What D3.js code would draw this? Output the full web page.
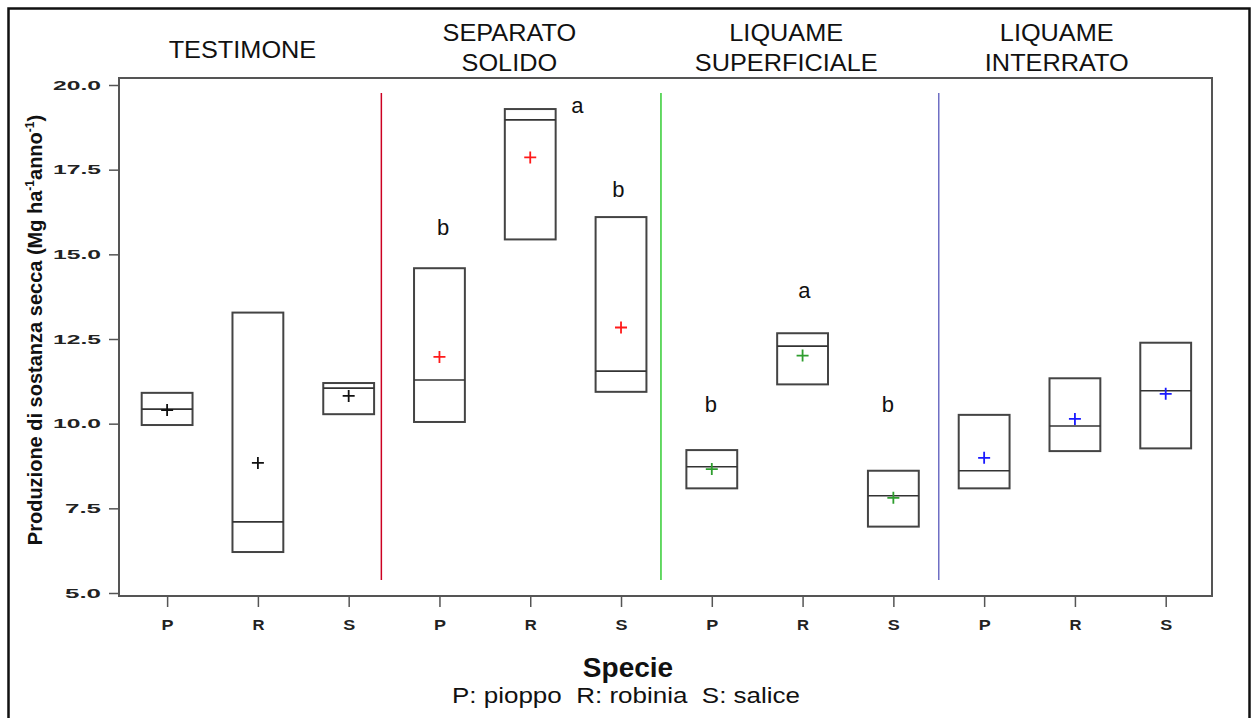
<!DOCTYPE html>
<html>
<head>
<meta charset="utf-8">
<script src="https://cdn.jsdelivr.net/npm/d3@7"></script>
<style>
  html, body { margin: 0; padding: 0; background: #fff; }
  svg { display: block; }
  text { font-family: "Liberation Sans", Arial, sans-serif; }
</style>
</head>
<body>
<svg id="chart" width="1255" height="718"></svg>
<script>
// Species codes on the x axis, repeated for each treatment
const species = ["P", "R", "S"];
const treatments = ["TESTIMONE", "SEPARATO SOLIDO", "LIQUAME SUPERFICIALE", "LIQUAME INTERRATO"];
const treatmentLines = [["TESTIMONE"], ["SEPARATO", "SOLIDO"], ["LIQUAME", "SUPERFICIALE"], ["LIQUAME", "INTERRATO"]];
const treatmentColors = ["#111111", "#ff1a1a", "#2e9e2e", "#1a1aff"];
const separatorColors = ["#cc0022", "#33cc33", "#6f6fc4"];
const separatorPos = [3.36, 6.44, 9.5];

// Box statistics per treatment, order P, R, S (Mg ha-1 anno-1)
const q1     = [[9.96, 6.21, 10.28], [10.05, 15.44, 10.94], [8.09, 11.16, 6.96], [8.09, 9.19, 9.27]];
const median = [[10.43, 7.10, 11.05], [11.29, 18.97, 11.55], [8.73, 12.29, 7.87], [8.61, 9.93, 10.97]];
const q3     = [[10.91, 13.28, 11.20], [14.59, 19.29, 16.10], [9.22, 12.67, 8.61], [10.26, 11.34, 12.39]];
const mean   = [[10.40, 8.84, 10.82], [11.97, 17.86, 12.84], [8.66, 12.01, 7.81], [8.99, 10.14, 10.88]];

// Significance letters: position index, baseline value, letter
const letterPos = [4.04, 5.52, 5.97, 6.99, 8.02, 8.94];
const letterVal = [15.57, 19.17, 16.69, 10.34, 13.71, 10.34];
const letterTxt = ["b", "a", "b", "b", "a", "b"];

// Header label centres (position index)
const headerPos = [1.83, 4.77, 7.82, 10.8];

const yTicks = [5.0, 7.5, 10.0, 12.5, 15.0, 17.5, 20.0];

const svg = d3.select("#chart");

// stretch a text element horizontally by a factor
function widen(sel, k) {
  sel.each(function () {
    const w = this.getComputedTextLength();
    d3.select(this).attr("textLength", w * k).attr("lengthAdjust", "spacingAndGlyphs");
  });
}

// outer border
svg.append("rect")
  .attr("x", 8.5).attr("y", 8.5).attr("width", 1241).attr("height", 730)
  .attr("fill", "none").attr("stroke", "#111").attr("stroke-width", 2.5);

const frame = { left: 119, right: 1212, top: 78, bottom: 596 };

const x = d3.scaleLinear().domain([0.47, 12.51]).range([frame.left, frame.right]);
const y = d3.scaleLinear().domain([5, 20]).range([593, 85]);

// plot frame
svg.append("rect")
  .attr("x", frame.left).attr("y", frame.top)
  .attr("width", frame.right - frame.left).attr("height", frame.bottom - frame.top)
  .attr("fill", "none").attr("stroke", "#555").attr("stroke-width", 2);

// y axis ticks and labels
const yAxis = d3.axisLeft(y).tickValues(yTicks).tickSize(10).tickPadding(8).tickFormat(d3.format(".1f"));
const gy = svg.append("g").attr("transform", `translate(${frame.left},0)`).call(yAxis);
gy.select(".domain").remove();
gy.selectAll(".tick line").attr("stroke", "#555").attr("stroke-width", 1.5);
gy.selectAll(".tick text")
  .attr("font-family", "'DejaVu Sans', sans-serif")
  .attr("font-weight", "bold").attr("font-size", 12.5).attr("fill", "#222")
  .attr("textLength", d => d3.format(".1f")(d).length * 12)
  .attr("lengthAdjust", "spacingAndGlyphs");

// x axis ticks and labels
const boxes = [];
treatments.forEach((t, ti) => {
  species.forEach((s, si) => {
    boxes.push({ t: ti, s: si, pos: ti * 3 + si + 1, label: s,
      q1: q1[ti][si], med: median[ti][si], q3: q3[ti][si], mean: mean[ti][si] });
  });
});

const xAxis = d3.axisBottom(x).tickValues(boxes.map(b => b.pos))
  .tickFormat(d => species[(d - 1) % 3]).tickSize(11).tickPadding(13);
const gx = svg.append("g").attr("transform", `translate(0,${frame.bottom})`).call(xAxis);
gx.select(".domain").remove();
gx.selectAll(".tick line").attr("stroke", "#555").attr("stroke-width", 1.5);
gx.selectAll(".tick text")
  .attr("font-family", "'DejaVu Sans', sans-serif")
  .attr("font-weight", "bold").attr("font-size", 14).attr("fill", "#222")
  .attr("textLength", 12).attr("lengthAdjust", "spacingAndGlyphs");

// treatment separators
svg.append("g").selectAll("line").data(separatorPos).join("line")
  .attr("x1", d => x(d)).attr("x2", d => x(d))
  .attr("y1", 93).attr("y2", 580)
  .attr("stroke", (d, i) => separatorColors[i]).attr("stroke-width", 1.5);

// boxes
const half = 0.28;
const gb = svg.append("g");
gb.selectAll("rect").data(boxes).join("rect")
  .attr("x", d => x(d.pos - half)).attr("width", d => x(d.pos + half) - x(d.pos - half))
  .attr("y", d => y(d.q3)).attr("height", d => y(d.q1) - y(d.q3))
  .attr("fill", "none").attr("stroke", "#444").attr("stroke-width", 2);
gb.selectAll("line.med").data(boxes).join("line").attr("class", "med")
  .attr("x1", d => x(d.pos - half)).attr("x2", d => x(d.pos + half))
  .attr("y1", d => y(d.med)).attr("y2", d => y(d.med))
  .attr("stroke", "#333").attr("stroke-width", 1.6);

// mean markers
const gm = svg.append("g");
gm.selectAll("path").data(boxes).join("path")
  .attr("d", d => {
    const cx = x(d.pos), cy = y(d.mean), r = 6;
    return `M${cx - r},${cy}H${cx + r}M${cx},${cy - r}V${cy + r}`;
  })
  .attr("stroke", d => treatmentColors[d.t]).attr("stroke-width", 1.8).attr("fill", "none");

// significance letters
svg.append("g").selectAll("text").data(letterTxt).join("text")
  .attr("x", (d, i) => x(letterPos[i])).attr("y", (d, i) => y(letterVal[i]))
  .attr("text-anchor", "middle").attr("font-size", 22).attr("fill", "#111")
  .text(d => d);

// treatment headers
const gh = svg.append("g");
treatmentLines.forEach((lines, i) => {
  const baselines = lines.length === 1 ? [58] : [41, 71];
  lines.forEach((ln, j) => {
    gh.append("text").attr("x", x(headerPos[i])).attr("y", baselines[j])
      .attr("text-anchor", "middle").attr("font-size", 23).attr("fill", "#111")
      .text(ln);
  });
});
widen(gh.selectAll("text"), 1.1);

// y axis title
const yt = svg.append("text")
  .attr("transform", `translate(42,330) rotate(-90)`)
  .attr("text-anchor", "middle").attr("font-weight", "bold").attr("font-size", 20).attr("fill", "#111");
yt.append("tspan").text("Produzione di sostanza secca (Mg ha");
yt.append("tspan").attr("font-size", 12).attr("dy", -8).text("-1");
yt.append("tspan").attr("dy", 8).text("anno");
yt.append("tspan").attr("font-size", 12).attr("dy", -8).text("-1");
yt.append("tspan").attr("dy", 8).text(")");

// x axis title and legend of species codes
svg.append("text").attr("x", 628).attr("y", 677)
  .attr("text-anchor", "middle").attr("font-weight", "bold").attr("font-size", 28).attr("fill", "#111")
  .text("Specie");
svg.append("text").attr("x", 626).attr("y", 703)
  .attr("text-anchor", "middle").attr("font-size", 22).attr("fill", "#111")
  .attr("xml:space", "preserve")
  .attr("textLength", 348).attr("lengthAdjust", "spacingAndGlyphs")
  .text("P: pioppo  R: robinia  S: salice");
</script>
</body>
</html>
